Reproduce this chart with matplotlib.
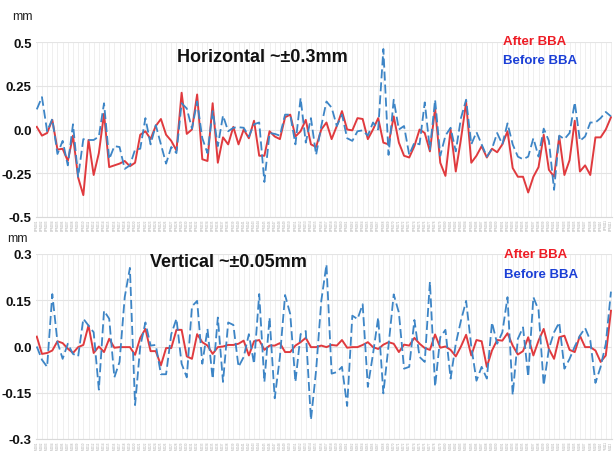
import matplotlib
matplotlib.use("Agg")
import matplotlib.pyplot as plt
import numpy as np

# ---------------- data ----------------
h_after = [0.015, -0.035, -0.02, 0.055, -0.115, -0.11, -0.18, -0.035, -0.275, -0.375,
           -0.06, -0.26, -0.135, 0.09, -0.215, -0.205, -0.195, -0.18, -0.21, -0.19,
           -0.03, -0.01, -0.055, 0.02, 0.06, -0.03, -0.065, -0.12, 0.21, -0.025,
           0.0, 0.2, -0.17, -0.18, 0.15, -0.19, -0.045, -0.085,
           0.015, -0.085, 0.0, -0.05, 0.05, -0.15, -0.15, -0.01, -0.04, -0.055,
           0.07, 0.085, -0.04, -0.01, 0.055, -0.085, -0.1, 0.0, 0.04, -0.055,
           0.02, 0.105, 0.0, -0.005, 0.065, 0.06, -0.055, 0.0, 0.065, -0.075,
           -0.085, 0.075, -0.075, -0.15, -0.16, -0.095, 0.0,
           -0.02, -0.125, 0.12, -0.19, -0.265, 0.0, -0.24, -0.055, 0.155, -0.19,
           -0.15, -0.095, -0.16, -0.11, -0.13, -0.085, -0.01, -0.22, -0.27, -0.27,
           -0.36, -0.27, -0.215, -0.03, -0.23, -0.27, -0.04, -0.26, -0.175, 0.05,
           -0.24, -0.205, -0.26, -0.045, -0.045, 0.0, 0.07]
h_before = [0.115, 0.185, -0.01, 0.06, -0.14, -0.065, -0.205, 0.03, -0.27, -0.055,
            -0.06, -0.06, -0.04, 0.15, -0.17, -0.095, -0.1, -0.225, -0.205, -0.115,
            -0.11, 0.065, -0.085, 0.025, -0.085, -0.195, -0.1, -0.135, 0.15, 0.12,
            0.005, 0.16, -0.05, -0.135, 0.105, -0.095, 0.08, -0.01,
            0.01, 0.013, 0.01, -0.04, 0.03, 0.04, -0.3, -0.02, -0.025, -0.035,
            0.085, 0.085, -0.085, 0.18, -0.075, 0.065, -0.145, 0.02, 0.16, 0.125,
            0.02, 0.085, -0.05, -0.065, -0.01, -0.005, -0.035, 0.04, 0.0, 0.46,
            -0.145, 0.17, 0.0, 0.02, -0.145, -0.075, -0.085,
            0.155, -0.115, 0.17, -0.15, -0.035, 0.01, -0.125, 0.065, 0.17, -0.085,
            -0.015, -0.085, -0.155, -0.11, -0.02, -0.085, 0.035, -0.085, -0.155, -0.17,
            -0.155, -0.05, -0.155, 0.005, -0.065, -0.345, -0.035, -0.055, -0.02, 0.155,
            -0.065, -0.04, 0.04, 0.04, 0.065, 0.1, 0.075]
v_after = [0.032, -0.024, -0.021, -0.013, 0.017, 0.011, -0.007, -0.021, -0.002, 0.005,
           0.068, -0.021, 0.0, -0.018, 0.025, -0.004, -0.002, -0.002, -0.002, -0.027,
           0.028, 0.057, -0.015, -0.015, -0.061, -0.005, -0.005, 0.054, 0.054, -0.032,
           -0.04, 0.04, 0.014, 0.003, -0.024, -0.002, 0.0, 0.005,
           0.005, 0.009, 0.019, -0.029, 0.017, 0.021, -0.011, 0.003, 0.003, 0.011,
           -0.018, -0.018, 0.003, 0.014, 0.028, -0.002, -0.002, 0.003, -0.002, 0.005,
           0.003, 0.021, -0.004, -0.002, -0.002, 0.005, 0.014, -0.002, -0.008, 0.006,
           0.014, 0.009, -0.018, 0.006, 0.003, 0.028, 0.009,
           -0.005, -0.011, 0.039, -0.004, 0.0, -0.011, -0.032, 0.0, 0.038, -0.029,
           0.021, 0.017, -0.066, -0.013, 0.021, 0.019, 0.043, 0.003, -0.026, -0.015,
           0.03, -0.029, 0.019, 0.057, -0.008, -0.04, 0.03, 0.035, -0.011, -0.018,
           0.035, -0.002, -0.002, -0.013, -0.05, -0.029, 0.116]
v_before = [0.0, -0.043, -0.066, 0.17, 0.014, -0.04, 0.009, -0.024, -0.032, 0.09,
            0.068, 0.046, -0.14, 0.116, 0.09, -0.1, -0.05, 0.16, 0.255, -0.19,
            0.0, 0.078, 0.003, 0.005, -0.09, -0.09, 0.04, 0.09, -0.056, -0.1,
            0.13, 0.148, -0.056, 0.057, -0.105, 0.094, -0.115, 0.078,
            0.07, -0.066, -0.034, 0.04, -0.056, 0.17, -0.115, 0.094, -0.168, -0.034,
            0.167, 0.105, -0.115, 0.04, 0.05, -0.238, -0.077, 0.148, 0.266, -0.088,
            -0.083, -0.066, -0.193, 0.1, 0.089, 0.137, -0.131, -0.024, 0.094, -0.152,
            0.003, 0.169, 0.11, -0.072, -0.066, 0.086, -0.034,
            -0.05, 0.21, -0.13, 0.03, 0.054, -0.104, 0.009, 0.084, 0.148, 0.0,
            -0.111, -0.066, -0.104, 0.078, 0.009, 0.046, 0.16, -0.157, 0.025, 0.062,
            -0.098, 0.16, 0.118, -0.126, -0.007, 0.046, 0.078, -0.072, -0.04, 0.0,
            0.035, 0.06, 0.02, -0.118, -0.066, 0.009, 0.178]

n_pts = len(h_after)
bpm_labels = ["BPM%03d" % (i + 1) for i in range(n_pts)]

h_ticks = [-0.5, -0.25, 0.0, 0.25, 0.5]
h_ticklabels = ["-0.5", "-0.25", "0.0", "0.25", "0.5"]
v_ticks = [-0.3, -0.15, 0.0, 0.15, 0.3]
v_ticklabels = ["-0.3", "-0.15", "0.0", "0.15", "0.3"]

# ---------------- style ----------------
FONT = ["Liberation Sans", "DejaVu Sans"]
plt.rcParams["font.family"] = FONT
RED = "#e03a3e"
BLUE_LINE = "#3d85c6"
RED_TXT = "#ee1c25"
BLUE_TXT = "#1b3fd6"

fig = plt.figure(figsize=(6.14, 4.52), dpi=100)
fig.patch.set_facecolor("white")

W, H = 614.0, 452.0


def make_axes(top_px, bot_px):
    left = 36 / W
    right = 612 / W
    return fig.add_axes([left, 1 - bot_px / H, right - left, (bot_px - top_px) / H])


def style(ax, ticks, ticklabels, ylim):
    x = np.arange(n_pts)
    ax.set_xlim(-0.15, n_pts - 1 + 0.2)
    ax.set_ylim(*ylim)
    ax.set_yticks(ticks)
    ax.set_yticklabels(ticklabels, fontsize=9.5, fontweight="bold", color="#111111")
    ax.set_xticks(x)
    ax.set_xticklabels(bpm_labels, rotation=90, fontsize=2.2, color="#aaaaaa")
    ax.tick_params(axis="both", length=0, pad=3)
    ax.tick_params(axis="x", pad=1)
    ax.grid(True, axis="x", color="#ececec", linewidth=0.6)
    ax.grid(True, axis="y", color="#e4e4e4", linewidth=0.8)
    ax.set_axisbelow(True)
    for s in ax.spines.values():
        s.set_visible(False)
    ax.spines["bottom"].set_visible(True)
    ax.spines["bottom"].set_color("#d9d9d9")


x = np.arange(n_pts)

# top panel
ax1 = make_axes(43, 218)
style(ax1, h_ticks, h_ticklabels, (-0.5, 0.5))
ax1.plot(x, h_after, color=RED, lw=1.4, zorder=3)
ax1.plot(x, h_before, color=BLUE_LINE, lw=1.3, ls=(0, (5, 2.2)), zorder=4)

# bottom panel
ax2 = make_axes(255, 440)
style(ax2, v_ticks, v_ticklabels, (-0.3, 0.3))
ax2.plot(x, v_after, color=RED, lw=1.4, zorder=3)
ax2.plot(x, v_before, color=BLUE_LINE, lw=1.3, ls=(0, (5, 2.2)), zorder=4)

# texts
fig.text(22 / W, 1 - 17 / H, "mm", fontsize=9, ha="center", va="center", color="#222222")
fig.text(17 / W, 1 - 239 / H, "mm", fontsize=9, ha="center", va="center", color="#222222")

fig.text(262 / W, 1 - 58 / H, "Horizontal ~\u00b10.3mm", fontsize=13, fontweight="bold",
         ha="center", va="center", color="#111111")
fig.text(228 / W, 1 - 263 / H, "Vertical ~\u00b10.05mm", fontsize=13, fontweight="bold",
         ha="center", va="center", color="#111111")

fig.text(503 / W, 1 - 42 / H, "After BBA", fontsize=9.5, fontweight="bold",
         ha="left", va="center", color=RED_TXT)
fig.text(503 / W, 1 - 61 / H, "Before BBA", fontsize=9.5, fontweight="bold",
         ha="left", va="center", color=BLUE_TXT)
fig.text(504 / W, 1 - 255 / H, "After BBA", fontsize=9.5, fontweight="bold",
         ha="left", va="center", color=RED_TXT)
fig.text(504 / W, 1 - 275 / H, "Before BBA", fontsize=9.5, fontweight="bold",
         ha="left", va="center", color=BLUE_TXT)

fig.savefig("out.png", dpi=100, facecolor="white")
